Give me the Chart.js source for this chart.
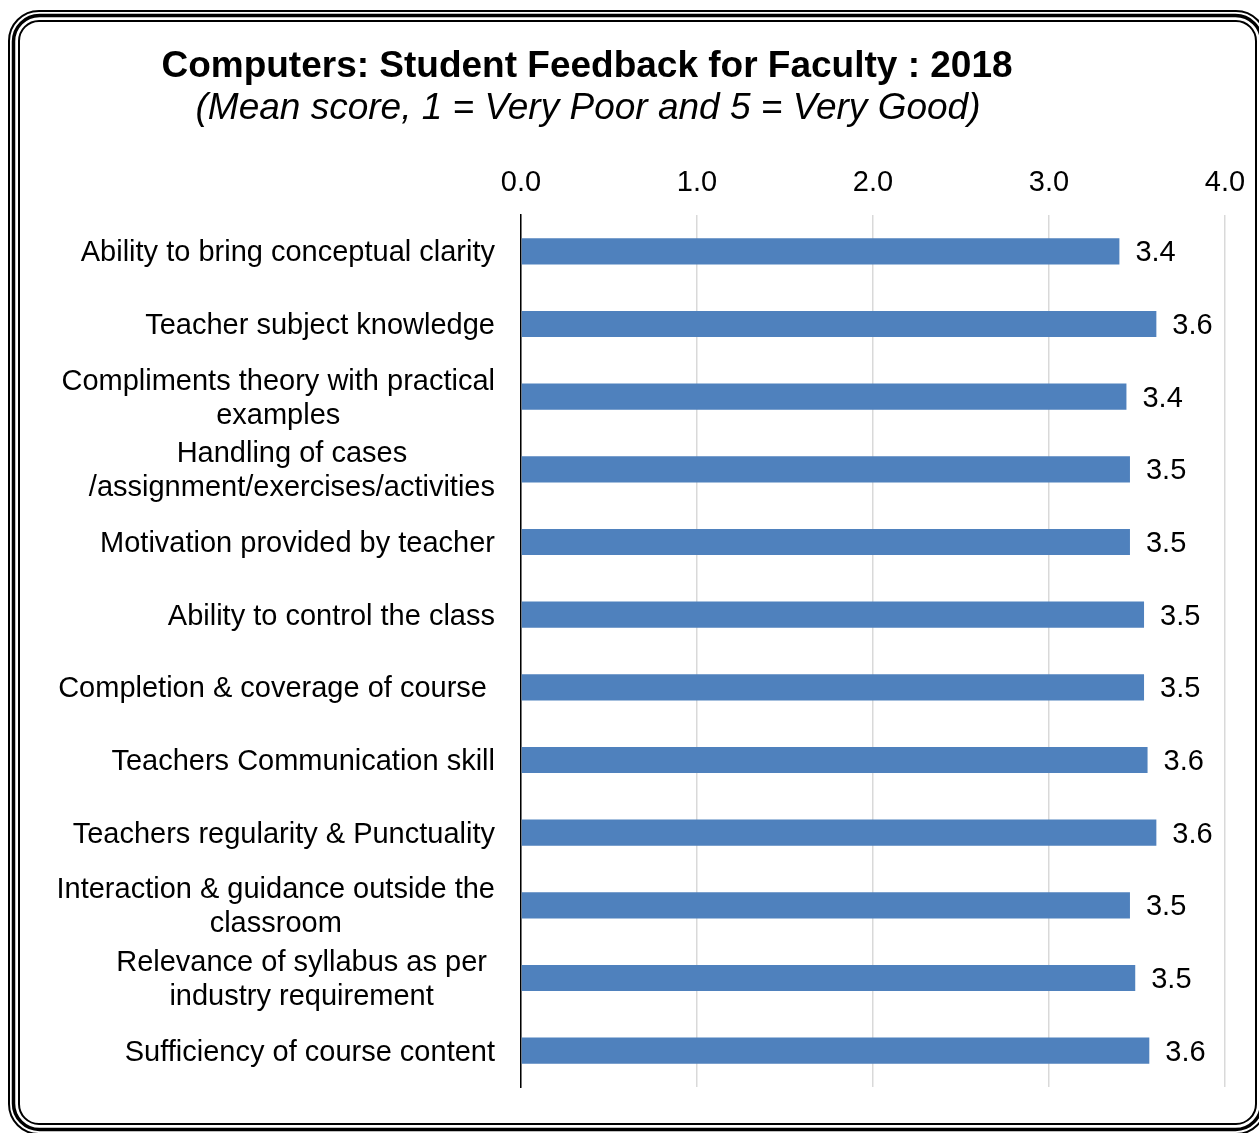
<!DOCTYPE html>
<html>
<head>
<meta charset="utf-8">
<script src="https://cdn.jsdelivr.net/npm/chart.js@4.4.1/dist/chart.umd.min.js"></script>
<style>
  html, body { margin: 0; padding: 0; background: #fff; }
</style>
</head>
<body>
<canvas id="canvas" width="1259" height="1133"></canvas>
<script>
// categories, top to bottom (trailing spaces are in the original labels)
let labels = [
  ['Ability to bring conceptual clarity'],
  ['Teacher subject knowledge'],
  ['Compliments theory with practical', 'examples'],
  ['Handling of cases', '/assignment/exercises/activities'],
  ['Motivation provided by teacher'],
  ['Ability to control the class'],
  ['Completion & coverage of course '],
  ['Teachers Communication skill'],
  ['Teachers regularity & Punctuality'],
  ['Interaction & guidance outside the', 'classroom'],
  ['Relevance of syllabus as per ', 'industry requirement '],
  ['Sufficiency of course content']
];

// mean scores
let scores = [3.40, 3.61, 3.44, 3.46, 3.46, 3.54, 3.54, 3.56, 3.61, 3.46, 3.49, 3.57];

// axis range
let xMin = 0;
let xMax = 4;
let xStep = 1;

let titleText = 'Computers: Student Feedback for Faculty : 2018';
let subtitleText = '(Mean score, 1 = Very Poor and 5 = Very Good)';

let fontFamily = '"Liberation Sans", Arial, Helvetica, sans-serif';

// helper for rounded rectangles
function roundedRect(ctx, x1, y1, x2, y2, r) {
  ctx.beginPath();
  ctx.moveTo(x1 + r, y1);
  ctx.arcTo(x2, y1, x2, y2, r);
  ctx.arcTo(x2, y2, x1, y2, r);
  ctx.arcTo(x1, y2, x1, y1, r);
  ctx.arcTo(x1, y1, x2, y1, r);
  ctx.closePath();
}

// white background plus the triple-line frame
let framePlugin = {
  id: 'frame',
  beforeDraw(chart) {
    let ctx = chart.ctx;
    ctx.save();
    ctx.fillStyle = '#fff';
    ctx.fillRect(0, 0, chart.width, chart.height);
    ctx.strokeStyle = '#000';
    ctx.lineWidth = 2;
    roundedRect(ctx, 9, 11, 1266, 1134, 30);
    ctx.stroke();
    ctx.lineWidth = 3.5;
    roundedRect(ctx, 13.5, 15.5, 1261.5, 1129.5, 26);
    ctx.stroke();
    ctx.lineWidth = 2;
    roundedRect(ctx, 19, 21, 1256, 1124, 20);
    ctx.stroke();
    ctx.restore();
  }
};

// title, category labels and value labels
let textPlugin = {
  id: 'texts',
  afterDatasetsDraw(chart) {
    let ctx = chart.ctx;
    let meta = chart.getDatasetMeta(0);
    ctx.save();
    ctx.fillStyle = '#000';
    ctx.font = '29px ' + fontFamily;
    ctx.textAlign = 'left';
    ctx.textBaseline = 'middle';
    meta.data.forEach((bar, i) => {
      ctx.fillText(scores[i].toFixed(1), bar.x + 16, bar.y + 2);
    });
    ctx.restore();
  },
  afterDraw(chart) {
    let ctx = chart.ctx;
    let yScale = chart.scales.y;
    ctx.save();
    ctx.fillStyle = '#000';
    ctx.textBaseline = 'middle';
    ctx.textAlign = 'center';

    // category labels: block right-aligned, lines centred inside it
    ctx.font = '29px ' + fontFamily;
    let lineH = 34;
    labels.forEach((lines, i) => {
      let y = yScale.getPixelForTick(i);
      let blockW = Math.max(...lines.map(l => ctx.measureText(l).width));
      let cx = yScale.right - 26 - blockW / 2;
      lines.forEach((line, j) => {
        let ly = y + (j - (lines.length - 1) / 2) * lineH + 2;
        ctx.fillText(line, cx, ly);
      });
    });

    // titles
    ctx.font = 'bold 37px ' + fontFamily;
    ctx.fillText(titleText, 587, 67);
    ctx.font = 'italic 37px ' + fontFamily;
    ctx.fillText(subtitleText, 588, 109);
    ctx.restore();
  }
};

let options = {
  type: 'bar',
  data: {
    labels: labels,
    datasets: [{
      data: scores,
      backgroundColor: '#4F81BD',
      borderWidth: 0,
      barPercentage: 0.36,
      categoryPercentage: 1
    }]
  },
  options: {
    indexAxis: 'y',
    responsive: false,
    animation: false,
    layout: {
      padding: { top: 140, right: 34, bottom: 46, left: 0 }
    },
    plugins: {
      legend: { display: false },
      title: { display: false },
      tooltip: { enabled: false }
    },
    scales: {
      x: {
        position: 'top',
        min: xMin,
        max: xMax,
        grid: { color: '#D9D9D9', lineWidth: 1.5, drawTicks: false },
        border: { display: false },
        ticks: {
          stepSize: xStep,
          color: '#000',
          padding: 15,
          font: { size: 29, family: fontFamily },
          callback: v => v.toFixed(1)
        },
        afterFit(scale) {
          scale.height = 75;
          scale.paddingLeft = 0;
          scale.paddingRight = 0;
        }
      },
      y: {
        grid: { display: false },
        border: { display: true, color: '#000', width: 1.5 },
        ticks: { display: false },
        afterFit(scale) { scale.width = 521; }
      }
    }
  },
  plugins: [framePlugin, textPlugin]
};

let chart = new Chart(document.getElementById('canvas'), options);
</script>
</body>
</html>
